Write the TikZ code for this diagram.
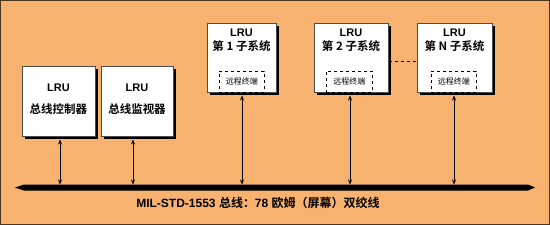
\documentclass[tikz,border=0pt]{standalone}
\usepackage{fontspec}
\setmainfont{Liberation Sans}
\newfontfamily\cjk{Noto Sans CJK SC}[BoldFont={Noto Sans CJK SC Bold}]
\usetikzlibrary{arrows.meta}
\definecolor{bgor}{RGB}{247,178,112}
\begin{document}
\begin{tikzpicture}[x=1pt,y=-1pt,
  lru/.style={draw=black!70,line width=0.5pt,fill=white,minimum width=#1,anchor=north west,inner sep=0pt},
  rt/.style={draw=black,dashed,line width=0.8pt,fill=white,inner sep=0pt,anchor=north west,font=\cjk\fontsize{8}{9}\selectfont},
  ttl/.style={font=\bfseries\fontsize{11}{12}\selectfont},
  cn/.style={font=\cjk\bfseries\fontsize{11.5}{13}\selectfont},
  link/.style={{Stealth[length=5pt,width=4pt]}-{Stealth[length=5pt,width=4pt]},line width=0.7pt}
]
\fill[bgor] (0,0) rectangle (550,225);
\draw[black!60!brown,line width=0.8pt] (0.4,0.4) rectangle (549.6,224.6);
\useasboundingbox (0,0) rectangle (550,225);
% shadows
\foreach \a/\b/\c/\d in {22/66/95/136,101/66/173/136,207/23/276/92,314/23/388/92,417/23/492/92}
  \fill[black] (\a+3,\b+3) rectangle (\c+3,\d+3);
% boxes
\node[lru=73pt,minimum height=70pt] (bc) at (22,66) {};
\node[lru=72pt,minimum height=70pt] (bm) at (101,66) {};
\node[lru=69pt,minimum height=69pt] (s1) at (207,23) {};
\node[lru=74pt,minimum height=69pt] (s2) at (314,23) {};
\node[lru=75pt,minimum height=69pt] (sn) at (417,23) {};
% texts
\node[ttl] (t1) at (58.5,88) {LRU};
\node[cn] (c1) at (58.5,109) {总线控制器};
\node[ttl] (t2) at (137,88) {LRU};
\node[cn] (c2) at (137,109) {总线监视器};
\node[ttl] (t3) at (241.5,33) {LRU};
\node[cn] (c3) at (241.5,46) {第 1 子系统};
\node[ttl] (t4) at (351,33) {LRU};
\node[cn] (c4) at (351,46) {第 2 子系统};
\node[ttl] (t5) at (454.5,33) {LRU};
\node[cn] (c5) at (454.5,46) {第 N 子系统};
% remote terminals
\node[rt,minimum width=45pt,minimum height=21pt] (r1) at (219,71) {远程终端};
\node[rt,minimum width=46pt,minimum height=21pt] (r2) at (326,71) {远程终端};
\node[rt,minimum width=45pt,minimum height=21pt] (r3) at (431,71) {远程终端};
% dashed link between subsystems
\draw[dashed,line width=0.8pt] (s2.east|-0,61) -- (sn.west|-0,61);
% bus
\coordinate (bl) at (15,187.5);
\coordinate (br) at (535,187.5);
\fill[black] (bl) -- (24,184.5) -- (528,184.5) -- (br) -- (528,190.5) -- (24,190.5) -- cycle;
% connectors
\draw[link] (bc.south-|60,0) ++(0,3) -- (60,184.5);
\draw[link] (bm.south-|133,0) ++(0,3) -- (133,184.5);
\draw[link] (s1.south-|242,0) ++(0,3) -- (242,184.5);
\draw[link] (s2.south-|350,0) ++(0,3) -- (350,184.5);
\draw[link] (sn.south-|454,0) ++(0,3) -- (454,184.5);
% bus label
\node[font=\bfseries\fontsize{12}{14}\selectfont] (lbl) at (258,203) {MIL-STD-1553 {\cjk\bfseries 总线：}78 {\cjk\bfseries 欧姆（屏幕）双绞线}};
\end{tikzpicture}
\end{document}
